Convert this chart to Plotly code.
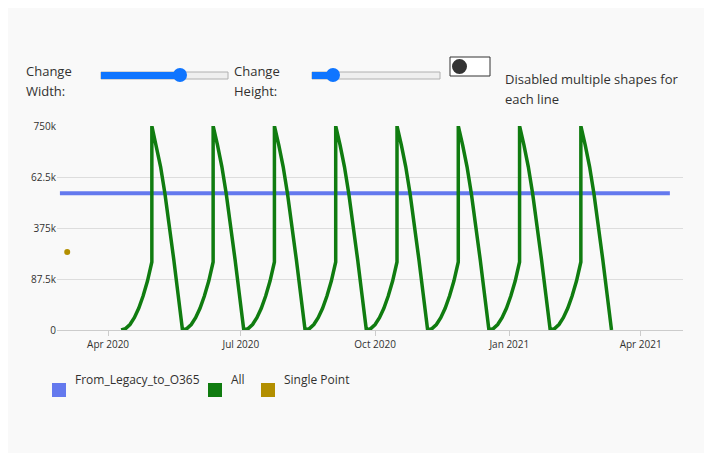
import pandas as pd
import plotly.graph_objects as go

# blue reference line
ref_dates = ["2020-02-28", "2021-04-21"]
ref_values = [503000, 503000]

# single point
single_date = ["2020-03-04"]
single_value = [287000]

# green sawtooth: one cycle (day offset, value), repeated 8 times
cycle_days = [0, 3, 6, 9, 12, 15, 18, 21, 21, 24, 27, 30, 33, 36, 39, 42]
cycle_vals = [0, 5000, 20000, 45000, 80000, 125000, 180000, 250000,
              750000, 680000, 600000, 500000, 390000, 260000, 130000, 0]
n_cycles = 8
start = pd.Timestamp("2020-04-10")

all_dates, all_vals = [], []
for c in range(n_cycles):
    for d, v in zip(cycle_days, cycle_vals):
        all_dates.append(start + pd.Timedelta(days=42 * c + d))
        all_vals.append(v)

ytick_vals = [0, 187500, 375000, 562500, 750000]
ytick_text = ["0", "87.5k", "375k", "62.5k", "750k"]

OFF = 8  # page body offset
W, H = 712 - OFF, 453 - OFF
L, R, T, B = 57, 683, 126, 330


def px(x):
    return (x - L) / (R - L)


def py(y):
    return (B - y) / (B - T)


fig = go.Figure()
fig.add_trace(go.Scatter(x=ref_dates, y=ref_values, mode="lines",
                         line=dict(color="#6479ee", width=4), name="From_Legacy_to_O365"))
fig.add_trace(go.Scatter(x=all_dates, y=all_vals, mode="lines",
                         line=dict(color="#107c10", width=3.5), name="All"))
fig.add_trace(go.Scatter(x=single_date, y=single_value, mode="markers",
                         marker=dict(color="#b38f00", size=6), name="Single Point"))

shapes = []
ann = []
font = dict(family="Open Sans, Noto Sans", size=13, color="#323130")


def text(x, y, s, f=font):
    ann.append(dict(x=px(x), y=py(y), xref="paper", yref="paper", text=s,
                    showarrow=False, xanchor="left", font=f))


# controls
for lx, l1, l2, x0, x1, knob in [(24, "Change", "Width:", 101, 228, 180),
                                 (232, "Change", "Height:", 312, 440, 333)]:
    text(lx, 60, l1)
    text(lx, 80, l2)
    shapes.append(dict(type="rect", xref="paper", yref="paper", x0=px(x0), x1=px(x1),
                       y0=py(72), y1=py(79), fillcolor="#efefef",
                       line=dict(color="#b0b0b0", width=1), layer="above"))
    shapes.append(dict(type="rect", xref="paper", yref="paper", x0=px(x0), x1=px(knob),
                       y0=py(72), y1=py(79), fillcolor="#0f75ff", line=dict(width=0), layer="above"))
    shapes.append(dict(type="circle", xref="paper", yref="paper", x0=px(knob - 7), x1=px(knob + 7),
                       y0=py(68), y1=py(82), fillcolor="#0f75ff", line=dict(width=0), layer="above"))

shapes.append(dict(type="rect", xref="paper", yref="paper", x0=px(450), x1=px(490),
                   y0=py(57), y1=py(76), fillcolor="#ffffff",
                   line=dict(color="#333333", width=1), layer="above"))
shapes.append(dict(type="circle", xref="paper", yref="paper", x0=px(452), x1=px(467),
                   y0=py(59), y1=py(74), fillcolor="#333333", line=dict(width=0), layer="above"))
text(503, 68, "Disabled multiple shapes for")
text(503, 88, "each line")

# legend
for sx, label, col in [(52, "From_Legacy_to_O365", "#6479ee"), (208, "All", "#107c10"),
                       (261, "Single Point", "#b38f00")]:
    shapes.append(dict(type="rect", xref="paper", yref="paper", x0=px(sx), x1=px(sx + 14),
                       y0=py(383), y1=py(397), fillcolor=col, line=dict(width=0)))
    text(sx + 21, 390, label, dict(family="Open Sans, Noto Sans", size=12, color="#323130"))

fig.update_layout(
    width=W, height=H, showlegend=False,
    margin=dict(l=L - OFF, r=W - (R - OFF), t=T - OFF, b=H - (B - OFF)),
    paper_bgcolor="#f9f9f9", plot_bgcolor="#f9f9f9",
    font=dict(family="Open Sans, Noto Sans", size=10, color="#323130"),
    shapes=shapes, annotations=ann,
    xaxis=dict(range=["2020-02-26", "2021-04-30"], showgrid=False, showline=True,
               linecolor="#cccccc", ticks="outside", tickcolor="#cccccc", ticklen=5,
               tickvals=["2020-04-01", "2020-07-01", "2020-10-01", "2021-01-01", "2021-04-01"],
               ticktext=["Apr 2020", "Jul 2020", "Oct 2020", "Jan 2021", "Apr 2021"],
               tickfont=dict(size=10)),
    yaxis=dict(range=[0, 750000], tickvals=ytick_vals, ticktext=ytick_text,
               gridcolor="#dddddd", zeroline=False, tickfont=dict(size=10)),
)
fig.update_traces(cliponaxis=False)

fig.write_html("out.html")
